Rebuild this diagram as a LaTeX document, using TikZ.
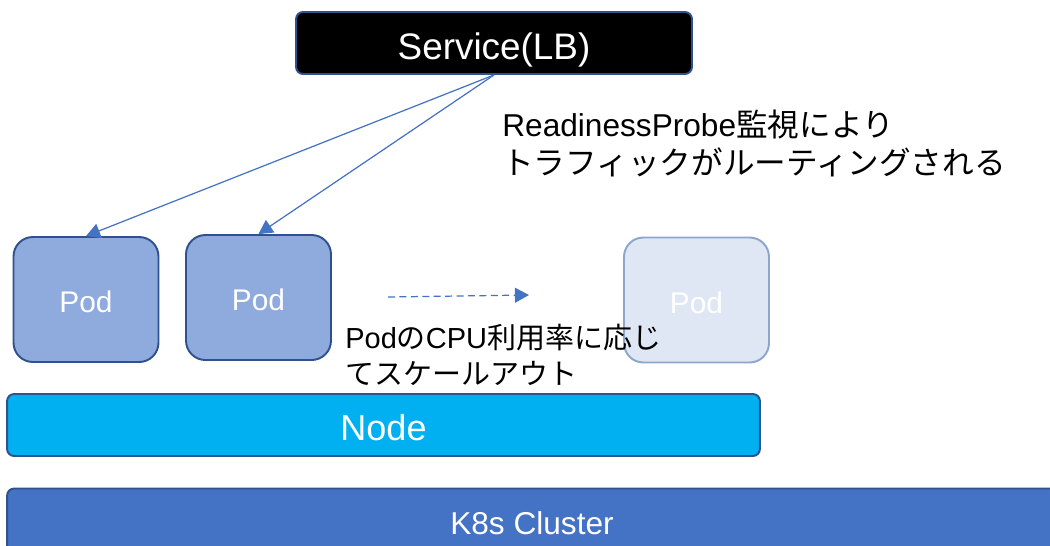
\documentclass[tikz,border=0pt]{standalone}
\usepackage{fontspec}
\setmainfont{Liberation Sans}
\newfontfamily\jp{Noto Sans CJK JP}
\usetikzlibrary{arrows.meta}

\definecolor{edge}{HTML}{2F528F}
\definecolor{link}{HTML}{4472C4}
\definecolor{podfill}{HTML}{8FAADC}
\definecolor{ghostfill}{HTML}{DFE6F4}
\definecolor{ghostedge}{HTML}{8EA5CE}
\definecolor{nodefill}{HTML}{00B0F0}

\begin{document}
\begin{tikzpicture}
  [
    x=0.02cm, y=-0.02cm,
    box/.style={draw=edge, line width=1.1pt, rounded corners=4pt, text=white, inner sep=0pt,
      font=\fontsize{#1}{#1}\selectfont, text height=0.87*#1pt, text depth=0pt},
    pod/.style={box=17, fill=podfill, minimum width=2.9cm, minimum height=2.5cm,
      rounded corners=11pt},
    route/.style={draw=link, line width=0.7pt, -{Triangle[length=8pt,width=8.5pt]}},
    note/.style={anchor=north west, align=left, inner sep=0pt}
  ]
  \useasboundingbox (0,0) rectangle (1050,545);
  % service
  \node [box=21, fill=black, minimum width=7.92cm, minimum height=1.24cm] (svc) at (494,43) {Service(LB)};
  % pods
  \node [pod] (pod1) at (86,299.5) {Pod};
  \node [pod] (pod2) at (258.5,297.5) {Pod};
  \node [pod, fill=ghostfill, draw=ghostedge] (pod3) at (696.5,300) {Pod};
  % node and cluster
  \node [box=20.5, fill=nodefill, minimum width=15.06cm, minimum height=1.24cm] (node) at (383.5,425) {Node};
  \node [box=18, fill=link, minimum width=21cm, minimum height=1.3cm] (cluster) at (532,521) {K8s Cluster};
  % notes
  \node [note, font=\fontsize{18}{21.2}\selectfont] (probe) at (502,110)
    {ReadinessProbe{\jp 監視により}\\{\jp トラフィックがルーティングされる}};
  \node [note, font=\fontsize{16.5}{20.3}\selectfont] (scale) at (345,324)
    {Pod{\jp の}CPU{\jp 利用率に応じ}\\{\jp てスケールアウト}};
  % routing edges
  \draw [route] (svc.south) -- (pod1.north);
  \draw [route] (svc.south) -- (pod2.north);
  % scale out
  \coordinate (from) at (388,297);
  \coordinate (to) at (529,295);
  \draw [route, dash pattern=on 4pt off 2.5pt] (from) -- (to);
\end{tikzpicture}
\end{document}
